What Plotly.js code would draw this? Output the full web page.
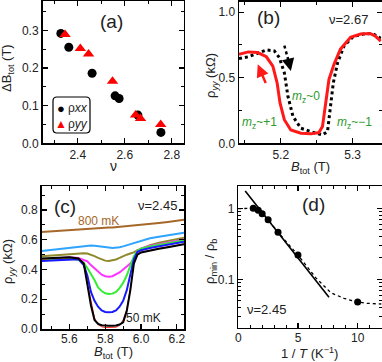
<!DOCTYPE html>
<html>
<head>
<meta charset="utf-8">
<script src="https://cdn.plot.ly/plotly-3.0.1.min.js"></script>
<style>body{margin:0;background:#fff;} #fig{width:382px;height:362px;}</style>
</head>
<body>
<div id="fig"></div>
<script>
var W = 382, H = 362;
var FONT = 'Liberation Sans, Arial, sans-serif';

// (a) width of the transition vs filling factor
var nuXX = [2.328, 2.362, 2.461, 2.559, 2.576, 2.656, 2.754];
var dbXX = [0.292, 0.255, 0.186, 0.126, 0.119, 0.075, 0.029];
var nuYY = [2.346, 2.411, 2.446, 2.548, 2.646, 2.667, 2.753];
var dbYY = [0.289, 0.252, 0.237, 0.165, 0.075, 0.066, 0.050];

// (b) hysteresis at nu = 2.67
var bDown = [5.142, 5.155, 5.168, 5.180, 5.189, 5.195, 5.199, 5.205, 5.214, 5.228, 5.242, 5.253, 5.258, 5.262, 5.267, 5.274, 5.283, 5.297, 5.311, 5.324, 5.331, 5.339];
var rDown = [0.679, 0.697, 0.692, 0.660, 0.589, 0.460, 0.308, 0.180, 0.102, 0.077, 0.072, 0.082, 0.128, 0.280, 0.487, 0.602, 0.718, 0.808, 0.833, 0.838, 0.820, 0.780];
var bUp = [5.142, 5.155, 5.168, 5.180, 5.191, 5.198, 5.205, 5.210, 5.217, 5.228, 5.246, 5.258, 5.265, 5.269, 5.273, 5.279, 5.288, 5.301, 5.315, 5.327, 5.339];
var rUp = [0.646, 0.660, 0.687, 0.712, 0.705, 0.654, 0.538, 0.358, 0.205, 0.115, 0.082, 0.064, 0.090, 0.256, 0.460, 0.615, 0.743, 0.815, 0.833, 0.838, 0.800];

// (c) temperature dependence at nu = 2.45
var bC = [5.445, 5.5, 5.55, 5.6, 5.65, 5.68, 5.70, 5.72, 5.74, 5.76, 5.78, 5.80, 5.82, 5.84, 5.86, 5.88, 5.90, 5.92, 5.94, 5.96, 5.98, 6.0, 6.05, 6.1, 6.15, 6.2, 6.24];
var r800 = [0.652, 0.657, 0.662, 0.666, 0.670, 0.672, 0.674, 0.676, 0.677, 0.678, 0.680, 0.681, 0.682, 0.683, 0.685, 0.687, 0.689, 0.691, 0.693, 0.695, 0.698, 0.700, 0.706, 0.713, 0.720, 0.728, 0.735];
var rLBlue = [0.524, 0.532, 0.540, 0.547, 0.553, 0.557, 0.560, 0.562, 0.560, 0.558, 0.555, 0.552, 0.548, 0.545, 0.545, 0.550, 0.556, 0.563, 0.570, 0.578, 0.587, 0.595, 0.610, 0.620, 0.630, 0.640, 0.647];
var rOlive = [0.490, 0.495, 0.500, 0.505, 0.508, 0.510, 0.508, 0.500, 0.490, 0.478, 0.467, 0.460, 0.457, 0.460, 0.468, 0.478, 0.490, 0.500, 0.508, 0.515, 0.530, 0.540, 0.563, 0.580, 0.592, 0.605, 0.614];
var rMag = [0.468, 0.472, 0.478, 0.483, 0.478, 0.465, 0.455, 0.430, 0.410, 0.385, 0.365, 0.355, 0.352, 0.355, 0.365, 0.380, 0.400, 0.420, 0.440, 0.470, 0.510, 0.540, 0.560, 0.570, 0.580, 0.595, 0.603];
var rGreen = [0.461, 0.465, 0.470, 0.474, 0.465, 0.445, 0.410, 0.370, 0.330, 0.280, 0.255, 0.240, 0.235, 0.238, 0.250, 0.275, 0.310, 0.360, 0.430, 0.490, 0.525, 0.540, 0.555, 0.565, 0.575, 0.588, 0.596];
var rBlue = [0.457, 0.460, 0.465, 0.470, 0.470, 0.430, 0.360, 0.250, 0.190, 0.150, 0.125, 0.115, 0.112, 0.115, 0.125, 0.150, 0.190, 0.260, 0.370, 0.470, 0.520, 0.530, 0.545, 0.555, 0.565, 0.578, 0.587];
var rRed = [0.470, 0.474, 0.478, 0.480, 0.476, 0.445, 0.310, 0.180, 0.075, 0.030, 0.015, 0.010, 0.010, 0.010, 0.012, 0.025, 0.060, 0.130, 0.270, 0.445, 0.500, 0.515, 0.530, 0.542, 0.552, 0.565, 0.572];
var r50 = [0.475, 0.478, 0.480, 0.483, 0.475, 0.440, 0.300, 0.160, 0.060, 0.035, 0.025, 0.022, 0.022, 0.022, 0.023, 0.030, 0.045, 0.120, 0.260, 0.440, 0.500, 0.515, 0.530, 0.540, 0.550, 0.560, 0.570];

// (d) normalized minimum vs 1/T
var invT = [1.25, 1.67, 2.0, 2.5, 3.33, 5.0, 10.0];
var rhoRatio = [1.0, 0.94, 0.84, 0.69, 0.46, 0.22, 0.048];
var fitX = [0.58, 7.6];
var fitY = [1.75, 0.056];
var guideX = [0, 1.25, 1.67, 2.0, 2.5, 3.33, 5.0, 6.5, 7.75, 8.86, 10.0, 10.8, 12.0];
var guideY = [0.99, 1.0, 0.94, 0.84, 0.69, 0.46, 0.22, 0.105, 0.065, 0.054, 0.048, 0.046, 0.045];

function line(x, y, xa, ya, color, width, dash) {
  return {type: 'scatter', mode: 'lines', x: x, y: y, xaxis: xa, yaxis: ya,
    line: {color: color, width: width, dash: dash || 'solid'}, showlegend: false, hoverinfo: 'skip'};
}

var data = [
  {type: 'scatter', mode: 'markers', x: nuXX, y: dbXX, xaxis: 'x', yaxis: 'y', name: 'ρxx',
    marker: {symbol: 'circle', size: 9, color: '#000'}, showlegend: false},
  {type: 'scatter', mode: 'markers', x: nuYY, y: dbYY, xaxis: 'x', yaxis: 'y', name: 'ρyy',
    marker: {symbol: 'triangle-up', size: 10, color: '#ff0000'}, showlegend: false},

  line(bUp, rUp, 'x2', 'y2', '#000', 3, 'dot'),
  line(bDown, rDown, 'x2', 'y2', '#ff1a1a', 3),

  line(bC, r800, 'x3', 'y3', '#a5682a', 2),
  line(bC, rLBlue, 'x3', 'y3', '#2fa4ff', 2),
  line(bC, rOlive, 'x3', 'y3', '#8e8a2c', 2),
  line(bC, rMag, 'x3', 'y3', '#ff33ff', 2),
  line(bC, rGreen, 'x3', 'y3', '#33ee33', 2),
  line(bC, rBlue, 'x3', 'y3', '#1a1aff', 2),
  line(bC, rRed, 'x3', 'y3', '#ff2020', 1),
  line(bC, r50, 'x3', 'y3', '#000', 2),

  line(guideX, guideY, 'x4', 'y4', '#000', 1.3, 'dot'),
  line(fitX, fitY, 'x4', 'y4', '#000', 1.6),
  {type: 'scatter', mode: 'markers', x: invT, y: rhoRatio, xaxis: 'x4', yaxis: 'y4',
    marker: {symbol: 'circle', size: 7, color: '#000'}, showlegend: false}
];

function ax(o, minorDtick) {
  var base = {showline: true, mirror: 'ticks', linecolor: '#000', linewidth: 1.5,
    ticks: 'inside', ticklen: 5, tickwidth: 1.2, tickcolor: '#000',
    showgrid: false, zeroline: false,
    tickfont: {family: FONT, size: 12, color: '#222'},
    minor: {ticks: 'inside', ticklen: 3, tickwidth: 1, tickcolor: '#000', showgrid: false}};
  if (minorDtick !== undefined) base.minor.dtick = minorDtick;
  return Object.assign(base, o);
}
function dom(a, b, n) { return [a / n, b / n]; }
function ydom(top, bottom) { return [1 - bottom / H, 1 - top / H]; }

function txt(px, py, s, size, color, extra) {
  return Object.assign({xref: 'paper', yref: 'paper', x: px / W, y: 1 - py / H, text: s,
    showarrow: false, xanchor: 'center', yanchor: 'middle',
    font: {family: FONT, size: size, color: color || '#222'}}, extra || {});
}

var green = '#2a9a2a';
var annotations = [
  // axis titles
  txt(8, 68, 'ΔB<sub>tot</sub> (T)', 13, '#222', {textangle: -90}),
  txt(113, 166, 'ν', 14),
  txt(211, 76, 'ρ<sub><i>yy</i></sub> (kΩ)', 13, '#222', {textangle: -90}),
  txt(310, 167, '<i>B</i><sub>tot</sub> (T)', 13),
  txt(8, 262, 'ρ<sub><i>yy</i></sub> (kΩ)', 13, '#222', {textangle: -90}),
  txt(113, 362, '<i>B</i><sub>tot</sub> (T)', 13, '#222', {yanchor: 'bottom', borderpad: 0}),
  txt(210, 262, 'ρ<sub>min</sub> / ρ<sub>b</sub>', 13, '#222', {textangle: -90}),
  txt(309, 362, '1 / <i>T</i> (K<sup>−1</sup>)', 13, '#222', {yanchor: 'bottom', borderpad: 0}),
  // panel labels
  txt(112, 22, '(a)', 19),
  txt(268, 18, '(b)', 19),
  txt(348, 19, 'ν=2.67', 13),
  txt(65, 206, '(c)', 19),
  txt(157, 205, 'ν=2.45', 13),
  txt(98, 221, '800 mK', 12, '#a5682a'),
  txt(143, 318, '50 mK', 12),
  txt(313, 204, '(d)', 19),
  txt(266, 309, 'ν=2.45', 13),
  // mz labels
  txt(306, 97, '<i>m</i><sub>z</sub>~0', 12, green),
  txt(259, 123, '<i>m</i><sub>z</sub>~+1', 12, green),
  txt(354, 123, '<i>m</i><sub>z</sub>~−1', 12, green),
  // legend of (a)
  txt(61, 108, '●', 13, '#000'),
  txt(61, 124, '▲', 12, '#ff0000'),
  txt(66, 108, 'ρ<i>xx</i>', 12, '#222', {xanchor: 'left'}),
  txt(66, 124, 'ρ<i>yy</i>', 12, '#222', {xanchor: 'left'}),
  // sweep arrows in (b)
  {xref: 'x2', yref: 'y2', axref: 'x2', ayref: 'y2', x: 5.168, y: 0.602, ax: 5.180, ay: 0.448,
    text: '', showarrow: true, arrowhead: 2, arrowsize: 1, arrowwidth: 2.5, arrowcolor: '#ff1a1a'},
  {xref: 'x2', yref: 'y2', axref: 'x2', ayref: 'y2', x: 5.214, y: 0.551, ax: 5.2115, ay: 0.611,
    text: '', showarrow: true, arrowhead: 2, arrowsize: 1, arrowwidth: 2.5, arrowcolor: '#000'}
];

// rounded legend box in (a)
var L = 53, R = 90, T = 97, B = 133, rr = 4;
function px(x) { return (x / W).toFixed(5); }
function py(y) { return (1 - y / H).toFixed(5); }
var boxPath = 'M' + px(L + rr) + ',' + py(T) +
  ' L' + px(R - rr) + ',' + py(T) + ' Q' + px(R) + ',' + py(T) + ' ' + px(R) + ',' + py(T + rr) +
  ' L' + px(R) + ',' + py(B - rr) + ' Q' + px(R) + ',' + py(B) + ' ' + px(R - rr) + ',' + py(B) +
  ' L' + px(L + rr) + ',' + py(B) + ' Q' + px(L) + ',' + py(B) + ' ' + px(L) + ',' + py(B - rr) +
  ' L' + px(L) + ',' + py(T + rr) + ' Q' + px(L) + ',' + py(T) + ' ' + px(L + rr) + ',' + py(T) + ' Z';

var shapes = [
  {type: 'path', xref: 'paper', yref: 'paper', path: boxPath, line: {color: '#000', width: 1.2}},
  {type: 'line', xref: 'x2', yref: 'y2', x0: 5.205, y0: 0.745, x1: 5.2115, y1: 0.615,
    line: {color: '#000', width: 2.5, dash: 'dot'}}
];

var layout = {
  width: W, height: H,
  margin: {l: 0, r: 0, t: 0, b: 0},
  paper_bgcolor: '#fff', plot_bgcolor: '#fff',
  showlegend: false,
  font: {family: FONT, size: 12, color: '#222'},
  xaxis: ax({domain: dom(42.5, 183.5, W), anchor: 'y', range: [2.25, 2.85], tick0: 2.4, dtick: 0.2, tickformat: '.1f'}, 0.1),
  yaxis: ax({domain: ydom(1, 143.3), anchor: 'x', range: [0, 0.378], dtick: 0.1, tickformat: '.1f'}, 0.05),
  xaxis2: ax({domain: dom(239, 381.5, W), anchor: 'y2', range: [5.142, 5.34], tick0: 5.2, dtick: 0.1, tickformat: '.1f'}, 0.05),
  yaxis2: ax({domain: ydom(1.7, 143.3), anchor: 'x2', range: [0, 1.08], dtick: 0.5, tickformat: '.1f'}, 0.25),
  xaxis3: ax({domain: dom(41.7, 184, W), anchor: 'y3', range: [5.445, 6.24], tick0: 5.6, dtick: 0.2, tickformat: '.1f', ticklabelstandoff: -2}, 0.1),
  yaxis3: ax({domain: ydom(186, 329), anchor: 'x3', range: [0, 0.962], dtick: 0.2, tickformat: '.1f'}, 0.1),
  xaxis4: ax({domain: dom(238.3, 381.5, W), anchor: 'y4', range: [0, 12], dtick: 5, ticklabelstandoff: -2}, 1),
  yaxis4: ax({domain: ydom(186, 327.7), anchor: 'x4', type: 'log', range: [-1.68, 0.314],
    tickmode: 'array', tickvals: [0.1, 1], ticktext: ['0.1', '1']}),
  annotations: annotations,
  shapes: shapes
};
layout.yaxis4.minor = {ticks: 'inside', ticklen: 3, tickwidth: 1, tickcolor: '#000', showgrid: false,
  tickmode: 'array', tickvals: [0.03, 0.04, 0.05, 0.06, 0.07, 0.08, 0.09, 0.2, 0.3, 0.4, 0.5, 0.6, 0.7, 0.8, 0.9, 2]};

Plotly.newPlot('fig', data, layout, {staticPlot: true, displayModeBar: false});
</script>
</body>
</html>
